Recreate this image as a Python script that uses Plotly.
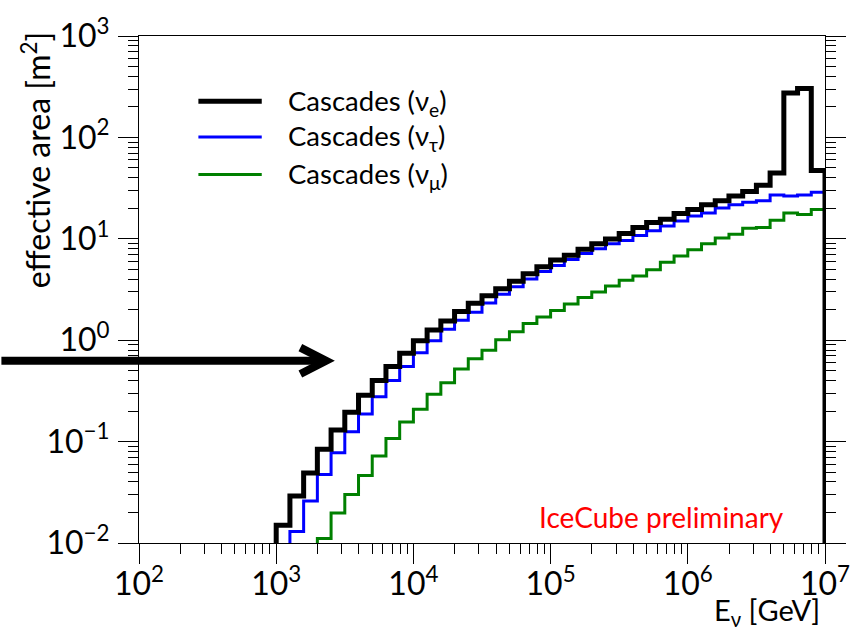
import plotly.graph_objects as go

# ---- data (log10 of bin lower edge, 0.1 decade bins) ----
bin_log_edges = [round(3.0 + 0.1 * i, 1) for i in range(40)]
bin_width_log = 0.1

cascades_nue = [0.015, 0.029, 0.049, 0.084, 0.13, 0.195, 0.287, 0.40, 0.55, 0.745,
                0.986, 1.26, 1.55, 1.92, 2.31, 2.74, 3.22, 3.82, 4.53, 5.29,
                6.18, 6.90, 7.89, 8.93, 9.97, 11.3, 12.9, 14.5, 15.6, 17.8,
                19.4, 21.7, 23.7, 26.5, 29.2, 33.8, 44.5, 274, 304, 47.1]
cascades_nutau = [None, 0.013, 0.026, 0.0475, 0.0775, 0.125, 0.187, 0.277, 0.40, 0.55,
                  0.75, 0.99, 1.28, 1.57, 1.89, 2.33, 2.84, 3.37, 4.02, 4.77,
                  5.45, 6.26, 7.16, 8.0, 8.93, 9.64, 10.8, 12.0, 13.4, 15.0,
                  16.8, 18.0, 20.1, 21.7, 22.9, 23.7, 27.1, 26.5, 27.1, 28.8]
cascades_numu = [None, None, None, 0.0111, 0.0198, 0.030, 0.0462, 0.072, 0.107, 0.156,
                 0.209, 0.293, 0.38, 0.519, 0.658, 0.796, 1.01, 1.21, 1.46, 1.69,
                 1.96, 2.28, 2.64, 2.99, 3.42, 3.9, 4.30, 4.95, 5.86, 6.75,
                 7.82, 8.93, 10.2, 11.1, 12.7, 12.9, 15.2, 18.0, 17.4, 19.4]

series_names = ["Cascades (ν<sub>e</sub>)", "Cascades (ν<sub>τ</sub>)", "Cascades (ν<sub>μ</sub>)"]
series_colors = ["#000000", "#0000ff", "#008000"]
series_widths = [5, 3, 3]

y_tick_exps = [-2, -1, 0, 1, 2, 3]
x_tick_exps = [2, 3, 4, 5, 6, 7]
y_tick_labels = ["10<sup>−2</sup>", "10<sup>−1</sup>", "10<sup>0</sup>", "10<sup>1</sup>", "10<sup>2</sup>", "10<sup>3</sup>"]
x_tick_labels = ["10<sup>2</sup>", "10<sup>3</sup>", "10<sup>4</sup>", "10<sup>5</sup>", "10<sup>6</sup>", "10<sup>7</sup>"]

FLOOR = 1e-5
FONT = "Lato"


def step_points(values):
    xs, ys = [], []
    first = True
    last_v = None
    for e, v in zip(bin_log_edges, values):
        if v is None:
            continue
        if first:
            xs.append(10 ** e)
            ys.append(FLOOR)
            first = False
        xs.append(10 ** e)
        ys.append(v)
        last_v = v
    end = 10 ** (bin_log_edges[-1] + bin_width_log)
    xs += [end, end]
    ys += [last_v, FLOOR]
    return xs, ys


fig = go.Figure()
for vals, name, col, w in zip([cascades_nue, cascades_nutau, cascades_numu][::-1],
                              series_names[::-1], series_colors[::-1], series_widths[::-1]):
    xs, ys = step_points(vals)
    fig.add_trace(go.Scatter(x=xs, y=ys, mode="lines", name=name,
                             line=dict(color=col, width=w, shape="hv"),
                             showlegend=False))

W, H = 862, 631
L, R, T, B = 139, 30, 24, 88
pw, ph = W - L - R, H - T - B


def px(x):
    return (x - L) / pw


def py(y):
    return (H - B - y) / ph


axis_common = dict(type="log", showgrid=False, zeroline=False, showline=True,
                   linecolor="black", linewidth=1, ticks="outside", ticklen=20,
                   tickwidth=1, tickcolor="black", ticklabeloverflow="allow",
                   tickfont=dict(family=FONT, size=32, color="black"),
                   minor=dict(ticks="outside", ticklen=10, tickwidth=1,
                              tickcolor="black", dtick="D1", showgrid=False))

fig.update_xaxes(range=[2, 7], tickmode="array",
                 tickvals=[10 ** e for e in x_tick_exps], ticktext=x_tick_labels,
                 mirror=True, ticklabelstandoff=-7, **axis_common)
fig.update_yaxes(range=[-2, 3], tickmode="array",
                 tickvals=[10 ** e for e in y_tick_exps], ticktext=y_tick_labels,
                 mirror="allticks", ticklabelstandoff=2, **axis_common)

shapes = []
# legend line samples
leg_y = [90.7, 127.3, 165.7]
for yy, col, w in zip(leg_y, series_colors, series_widths):
    shapes.append(dict(type="line", xref="paper", yref="paper",
                       x0=px(199), x1=px(263), y0=py(yy), y1=py(yy),
                       line=dict(color=col, width=w)))
# arrow
shapes.append(dict(type="line", xref="paper", yref="paper",
                   x0=px(0), x1=px(328), y0=py(356.5), y1=py(356.5),
                   line=dict(color="black", width=8)))
shapes.append(dict(type="path", xref="paper", yref="paper",
                   path=f"M{px(302)},{py(343)} L{px(328)},{py(356.5)} L{px(302)},{py(370)}",
                   line=dict(color="black", width=8)))

annotations = []
for yy, name in zip(leg_y, series_names):
    annotations.append(dict(xref="paper", yref="paper", x=px(288), y=py(yy + 1),
                            xanchor="left", yanchor="middle", showarrow=False,
                            text=name, font=dict(family=FONT, size=27.5, color="black")))
annotations.append(dict(xref="paper", yref="paper", x=px(35), y=py(18),
                        xanchor="center", yanchor="top", showarrow=False, textangle=-90,
                        text="effective area [m<sup>2</sup>]",
                        font=dict(family=FONT, size=32, color="black")))
annotations.append(dict(xref="paper", yref="paper", x=px(829), y=py(613),
                        xanchor="right", yanchor="middle", showarrow=False,
                        text="E<sub>ν</sub> [GeV]",
                        font=dict(family=FONT, size=29, color="black")))
annotations.append(dict(xref="paper", yref="paper", x=px(793), y=py(516),
                        xanchor="right", yanchor="middle", showarrow=False,
                        text="IceCube preliminary",
                        font=dict(family=FONT, size=28, color="#ff0000")))

fig.update_layout(width=W, height=H, margin=dict(l=L, r=R, t=T, b=B),
                  paper_bgcolor="white", plot_bgcolor="white",
                  shapes=shapes, annotations=annotations, showlegend=False)

fig.write_html("out.html")
